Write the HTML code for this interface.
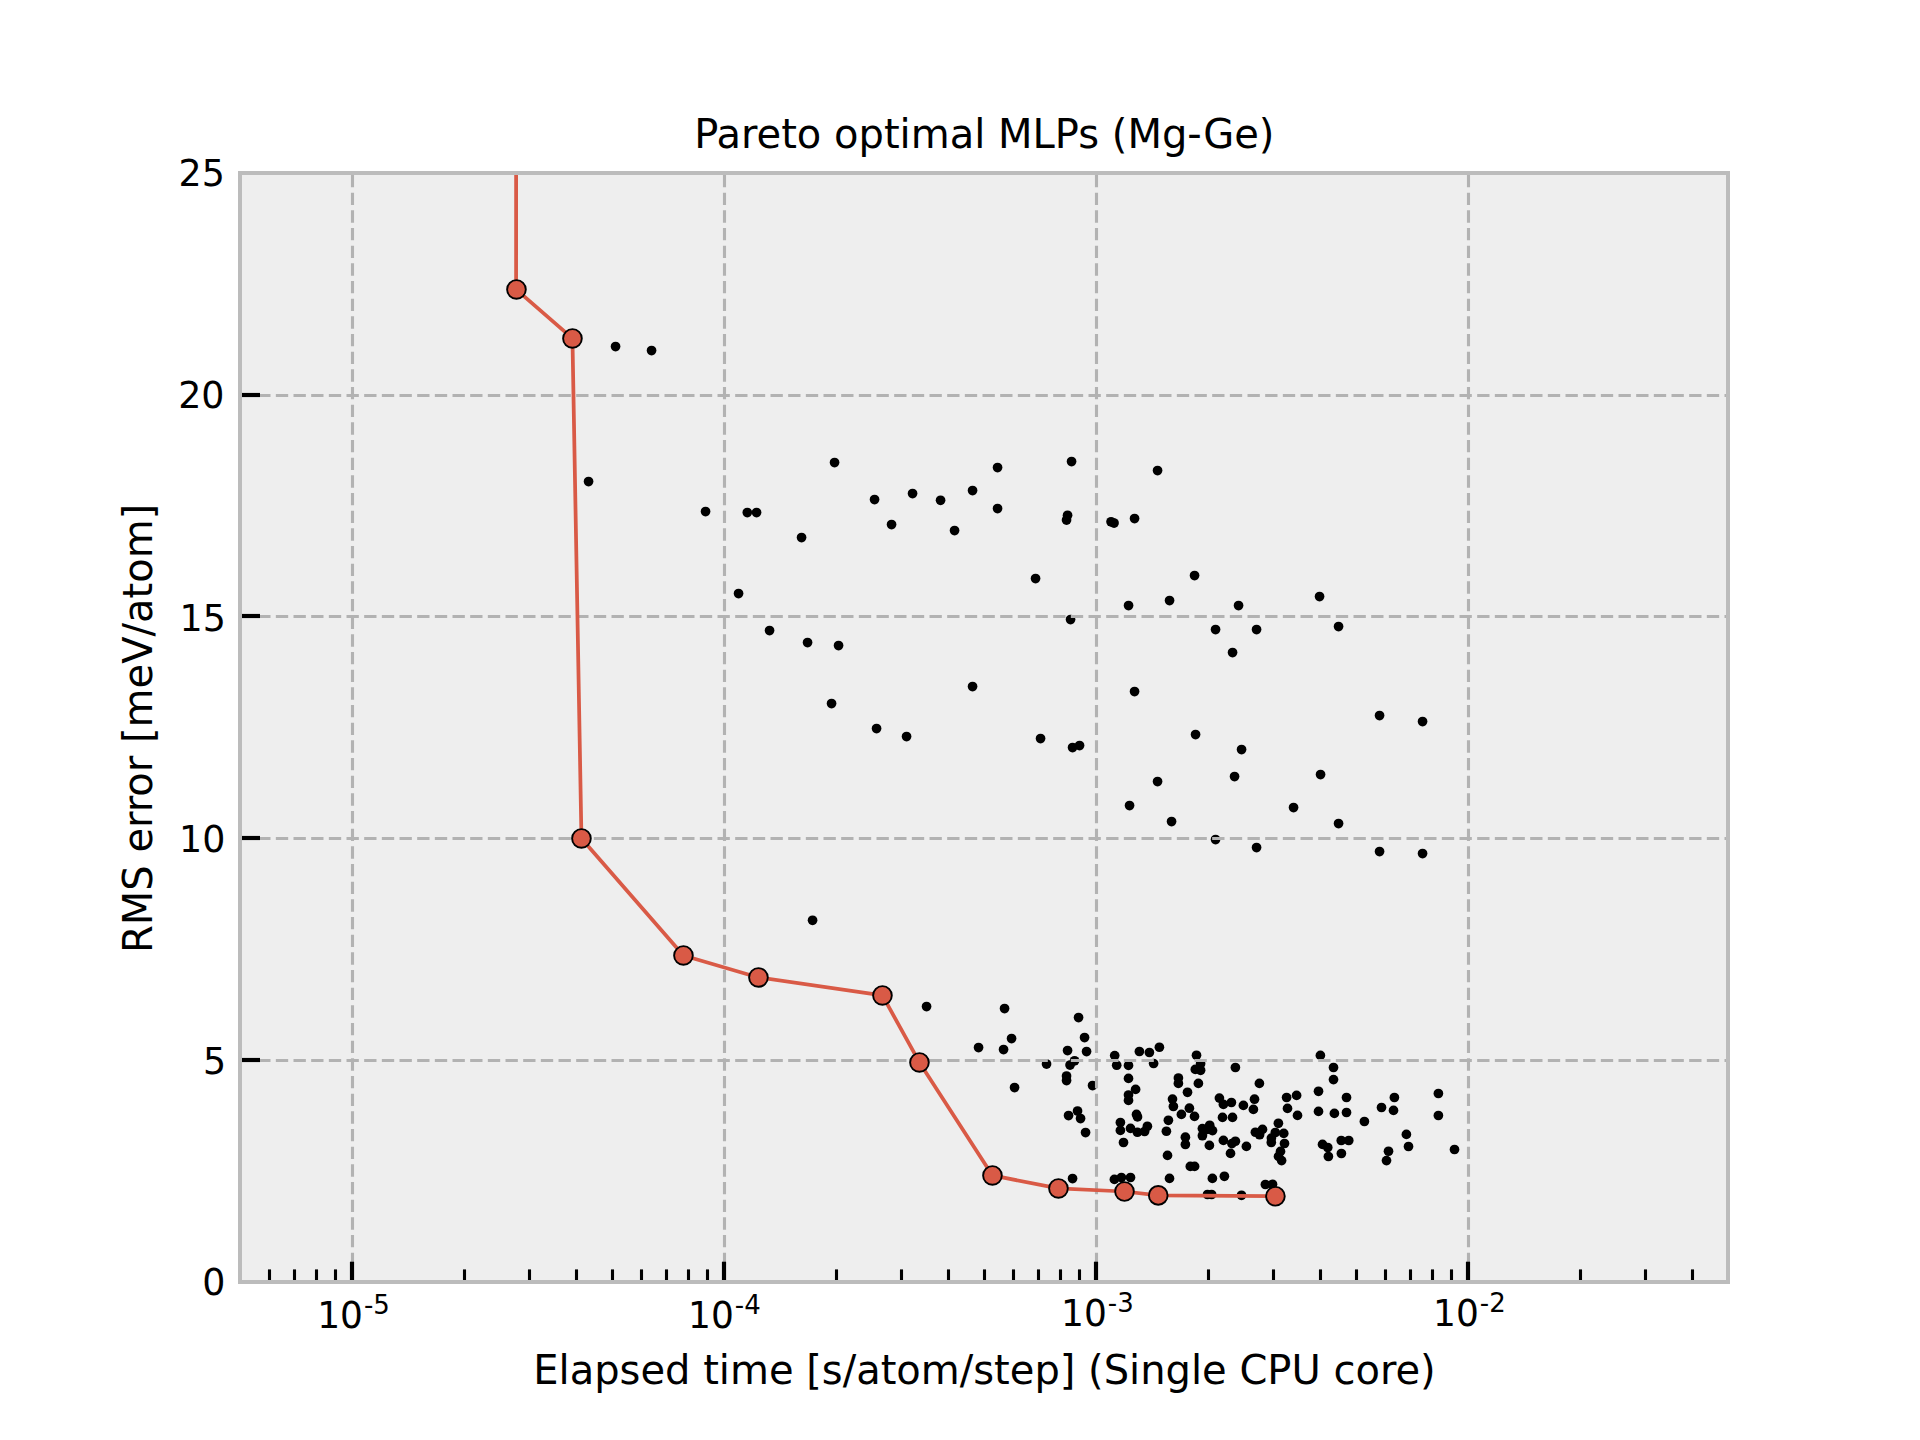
<!DOCTYPE html>
<html lang="en"><head><meta charset="utf-8"><title>Pareto optimal MLPs (Mg-Ge)</title>
<style>html,body{margin:0;padding:0;background:#fff;overflow:hidden}svg{display:block}text{font-family:"DejaVu Sans","Liberation Sans",sans-serif;fill:#000}</style></head><body>
<svg width="1920" height="1440" viewBox="0 0 1920 1440">
<rect width="1920" height="1440" fill="#fff"/>
<rect x="240.0" y="172.8" width="1488.0" height="1108.8" fill="#eeeeee"/>
<clipPath id="c"><rect x="240.0" y="172.8" width="1488.0" height="1108.8"/></clipPath>
<g fill="#000" clip-path="url(#c)">
<circle cx="615.55" cy="346.55" r="4.85"/>
<circle cx="651.55" cy="350.55" r="4.85"/>
<circle cx="588.55" cy="481.55" r="4.85"/>
<circle cx="705.55" cy="511.55" r="4.85"/>
<circle cx="747.3" cy="512.55" r="4.85"/>
<circle cx="756.55" cy="512.55" r="4.85"/>
<circle cx="834.55" cy="462.55" r="4.85"/>
<circle cx="874.55" cy="499.55" r="4.85"/>
<circle cx="912.55" cy="493.55" r="4.85"/>
<circle cx="940.55" cy="500.3" r="4.85"/>
<circle cx="891.55" cy="524.55" r="4.85"/>
<circle cx="954.55" cy="530.55" r="4.85"/>
<circle cx="801.55" cy="537.55" r="4.85"/>
<circle cx="738.55" cy="593.55" r="4.85"/>
<circle cx="997.55" cy="467.55" r="4.85"/>
<circle cx="1071.55" cy="461.55" r="4.85"/>
<circle cx="1157.55" cy="470.55" r="4.85"/>
<circle cx="972.55" cy="490.55" r="4.85"/>
<circle cx="997.55" cy="508.55" r="4.85"/>
<circle cx="1067.55" cy="515.3" r="4.85"/>
<circle cx="1066.55" cy="520.05" r="4.85"/>
<circle cx="1111.05" cy="521.8" r="4.85"/>
<circle cx="1114.05" cy="523.05" r="4.85"/>
<circle cx="1134.55" cy="518.55" r="4.85"/>
<circle cx="1035.55" cy="578.55" r="4.85"/>
<circle cx="1194.55" cy="575.55" r="4.85"/>
<circle cx="1128.55" cy="605.55" r="4.85"/>
<circle cx="1169.55" cy="600.55" r="4.85"/>
<circle cx="1238.55" cy="605.55" r="4.85"/>
<circle cx="1319.55" cy="596.55" r="4.85"/>
<circle cx="1070.55" cy="619.55" r="4.85"/>
<circle cx="1215.55" cy="629.55" r="4.85"/>
<circle cx="1256.55" cy="629.55" r="4.85"/>
<circle cx="1338.55" cy="626.55" r="4.85"/>
<circle cx="1232.55" cy="652.55" r="4.85"/>
<circle cx="972.55" cy="686.55" r="4.85"/>
<circle cx="1134.55" cy="691.55" r="4.85"/>
<circle cx="1379.55" cy="715.55" r="4.85"/>
<circle cx="1422.55" cy="721.55" r="4.85"/>
<circle cx="1040.55" cy="738.55" r="4.85"/>
<circle cx="1072.55" cy="747.55" r="4.85"/>
<circle cx="1079.55" cy="745.55" r="4.85"/>
<circle cx="1195.55" cy="734.55" r="4.85"/>
<circle cx="1241.55" cy="749.55" r="4.85"/>
<circle cx="769.55" cy="630.55" r="4.85"/>
<circle cx="807.55" cy="642.55" r="4.85"/>
<circle cx="838.55" cy="645.55" r="4.85"/>
<circle cx="831.55" cy="703.55" r="4.85"/>
<circle cx="876.55" cy="728.55" r="4.85"/>
<circle cx="906.55" cy="736.55" r="4.85"/>
<circle cx="812.55" cy="920.3" r="4.85"/>
<circle cx="1157.55" cy="781.55" r="4.85"/>
<circle cx="1234.55" cy="776.55" r="4.85"/>
<circle cx="1320.55" cy="774.55" r="4.85"/>
<circle cx="1129.55" cy="805.55" r="4.85"/>
<circle cx="1171.55" cy="821.55" r="4.85"/>
<circle cx="1293.55" cy="807.55" r="4.85"/>
<circle cx="1338.55" cy="823.55" r="4.85"/>
<circle cx="1215.55" cy="839.55" r="4.85"/>
<circle cx="1256.55" cy="847.55" r="4.85"/>
<circle cx="1379.55" cy="851.55" r="4.85"/>
<circle cx="1422.55" cy="853.55" r="4.85"/>
<circle cx="926.55" cy="1006.55" r="4.85"/>
<circle cx="1004.55" cy="1008.55" r="4.85"/>
<circle cx="1078.55" cy="1017.55" r="4.85"/>
<circle cx="1011.55" cy="1038.55" r="4.85"/>
<circle cx="1084.55" cy="1037.55" r="4.85"/>
<circle cx="978.55" cy="1047.55" r="4.85"/>
<circle cx="1003.55" cy="1049.55" r="4.85"/>
<circle cx="1067.55" cy="1050.55" r="4.85"/>
<circle cx="1086.55" cy="1051.55" r="4.85"/>
<circle cx="1114.7" cy="1055.6" r="4.85"/>
<circle cx="1046.55" cy="1064.05" r="4.85"/>
<circle cx="1074.55" cy="1060.8" r="4.85"/>
<circle cx="1070.05" cy="1065.05" r="4.85"/>
<circle cx="1116.7" cy="1065.2" r="4.85"/>
<circle cx="1066.55" cy="1076.05" r="4.85"/>
<circle cx="1066.55" cy="1080.55" r="4.85"/>
<circle cx="1092.55" cy="1085.55" r="4.85"/>
<circle cx="1014.55" cy="1087.55" r="4.85"/>
<circle cx="1077.55" cy="1111.05" r="4.85"/>
<circle cx="1068.55" cy="1115.55" r="4.85"/>
<circle cx="1080.55" cy="1118.55" r="4.85"/>
<circle cx="1085.55" cy="1132.55" r="4.85"/>
<circle cx="1072.55" cy="1178.55" r="4.85"/>
<circle cx="1139.4" cy="1051.5" r="4.85"/>
<circle cx="1149.4" cy="1052.5" r="4.85"/>
<circle cx="1159.4" cy="1047.25" r="4.85"/>
<circle cx="1196.5" cy="1055.3" r="4.85"/>
<circle cx="1320.4" cy="1055.4" r="4.85"/>
<circle cx="1128.5" cy="1065.4" r="4.85"/>
<circle cx="1153.6" cy="1063.5" r="4.85"/>
<circle cx="1235.4" cy="1067.5" r="4.85"/>
<circle cx="1200.6" cy="1063.75" r="4.85"/>
<circle cx="1195.3" cy="1069.4" r="4.85"/>
<circle cx="1200.6" cy="1070.3" r="4.85"/>
<circle cx="1128.5" cy="1078.4" r="4.85"/>
<circle cx="1178.4" cy="1078" r="4.85"/>
<circle cx="1178.4" cy="1083.4" r="4.85"/>
<circle cx="1198.4" cy="1083.4" r="4.85"/>
<circle cx="1259.4" cy="1083.4" r="4.85"/>
<circle cx="1135.6" cy="1089.4" r="4.85"/>
<circle cx="1187.5" cy="1092.3" r="4.85"/>
<circle cx="1318.5" cy="1091.3" r="4.85"/>
<circle cx="1128.5" cy="1095" r="4.85"/>
<circle cx="1128.5" cy="1100.4" r="4.85"/>
<circle cx="1172.5" cy="1099.1" r="4.85"/>
<circle cx="1219.4" cy="1098.1" r="4.85"/>
<circle cx="1254.5" cy="1099.2" r="4.85"/>
<circle cx="1286.6" cy="1097.5" r="4.85"/>
<circle cx="1296.6" cy="1095.4" r="4.85"/>
<circle cx="1173.4" cy="1106.5" r="4.85"/>
<circle cx="1189.4" cy="1108.2" r="4.85"/>
<circle cx="1223.4" cy="1104.4" r="4.85"/>
<circle cx="1231.4" cy="1102.5" r="4.85"/>
<circle cx="1243.4" cy="1105.4" r="4.85"/>
<circle cx="1253.4" cy="1109.4" r="4.85"/>
<circle cx="1287.5" cy="1108.4" r="4.85"/>
<circle cx="1318.5" cy="1111.4" r="4.85"/>
<circle cx="1297.5" cy="1115.4" r="4.85"/>
<circle cx="1136.5" cy="1114.4" r="4.85"/>
<circle cx="1137.5" cy="1116.9" r="4.85"/>
<circle cx="1181.4" cy="1114.4" r="4.85"/>
<circle cx="1194.5" cy="1116.4" r="4.85"/>
<circle cx="1222.5" cy="1117.4" r="4.85"/>
<circle cx="1232.5" cy="1117.4" r="4.85"/>
<circle cx="1168.4" cy="1120.3" r="4.85"/>
<circle cx="1120.4" cy="1122.5" r="4.85"/>
<circle cx="1278.4" cy="1123.3" r="4.85"/>
<circle cx="1147.4" cy="1126.25" r="4.85"/>
<circle cx="1130.5" cy="1128.4" r="4.85"/>
<circle cx="1120.4" cy="1130.4" r="4.85"/>
<circle cx="1137.4" cy="1132.25" r="4.85"/>
<circle cx="1144.6" cy="1131.5" r="4.85"/>
<circle cx="1166.4" cy="1131.25" r="4.85"/>
<circle cx="1209.7" cy="1125.3" r="4.85"/>
<circle cx="1202.4" cy="1128.6" r="4.85"/>
<circle cx="1212.5" cy="1130.6" r="4.85"/>
<circle cx="1207.5" cy="1129.4" r="4.85"/>
<circle cx="1202.4" cy="1135.75" r="4.85"/>
<circle cx="1262.5" cy="1129.4" r="4.85"/>
<circle cx="1255.4" cy="1132.25" r="4.85"/>
<circle cx="1259.6" cy="1134.7" r="4.85"/>
<circle cx="1275.3" cy="1132.5" r="4.85"/>
<circle cx="1283.75" cy="1133.4" r="4.85"/>
<circle cx="1185.4" cy="1137.2" r="4.85"/>
<circle cx="1185.4" cy="1144.5" r="4.85"/>
<circle cx="1123.5" cy="1142.5" r="4.85"/>
<circle cx="1223.4" cy="1140.4" r="4.85"/>
<circle cx="1235.4" cy="1141.25" r="4.85"/>
<circle cx="1231.9" cy="1143.6" r="4.85"/>
<circle cx="1209.4" cy="1145.4" r="4.85"/>
<circle cx="1246.4" cy="1146.4" r="4.85"/>
<circle cx="1271.4" cy="1138.1" r="4.85"/>
<circle cx="1271.3" cy="1142.5" r="4.85"/>
<circle cx="1284.5" cy="1143.5" r="4.85"/>
<circle cx="1230.5" cy="1153.4" r="4.85"/>
<circle cx="1167.5" cy="1155.4" r="4.85"/>
<circle cx="1280.5" cy="1151.4" r="4.85"/>
<circle cx="1278.5" cy="1156.4" r="4.85"/>
<circle cx="1281.6" cy="1160.6" r="4.85"/>
<circle cx="1190.3" cy="1166.4" r="4.85"/>
<circle cx="1194.6" cy="1166.4" r="4.85"/>
<circle cx="1224.4" cy="1176.3" r="4.85"/>
<circle cx="1212.4" cy="1178.4" r="4.85"/>
<circle cx="1169.5" cy="1178.4" r="4.85"/>
<circle cx="1114.4" cy="1179.4" r="4.85"/>
<circle cx="1121.4" cy="1177.5" r="4.85"/>
<circle cx="1130.5" cy="1177.5" r="4.85"/>
<circle cx="1265.4" cy="1184.5" r="4.85"/>
<circle cx="1272.5" cy="1184.3" r="4.85"/>
<circle cx="1207.5" cy="1194.5" r="4.85"/>
<circle cx="1211.6" cy="1194.5" r="4.85"/>
<circle cx="1241.5" cy="1195.3" r="4.85"/>
<circle cx="1333.5" cy="1067.5" r="4.85"/>
<circle cx="1333.5" cy="1079.6" r="4.85"/>
<circle cx="1346.5" cy="1097.5" r="4.85"/>
<circle cx="1394.4" cy="1097.5" r="4.85"/>
<circle cx="1438.4" cy="1093.5" r="4.85"/>
<circle cx="1334.4" cy="1113.4" r="4.85"/>
<circle cx="1346.5" cy="1112.5" r="4.85"/>
<circle cx="1381.5" cy="1107.5" r="4.85"/>
<circle cx="1393.5" cy="1110.4" r="4.85"/>
<circle cx="1438.4" cy="1115.5" r="4.85"/>
<circle cx="1364.4" cy="1121.5" r="4.85"/>
<circle cx="1406.4" cy="1134.4" r="4.85"/>
<circle cx="1408.5" cy="1146.5" r="4.85"/>
<circle cx="1341.25" cy="1140.5" r="4.85"/>
<circle cx="1348.75" cy="1140.5" r="4.85"/>
<circle cx="1322.5" cy="1144.4" r="4.85"/>
<circle cx="1327.75" cy="1147.5" r="4.85"/>
<circle cx="1328.4" cy="1156.5" r="4.85"/>
<circle cx="1341.4" cy="1153.5" r="4.85"/>
<circle cx="1388.5" cy="1151.25" r="4.85"/>
<circle cx="1386.5" cy="1160.6" r="4.85"/>
<circle cx="1454.5" cy="1149.5" r="4.85"/>
</g>
<g stroke="#b2b2b2" stroke-width="3.1" stroke-dasharray="12.3333 5.3333" fill="none">
<path d="M352.5 1282.7V172.8"/>
<path d="M724.5 1282.7V172.8"/>
<path d="M1096.5 1282.7V172.8"/>
<path d="M1468.5 1282.7V172.8"/>
<path d="M240.5 1060.5H1728.0"/>
<path d="M240.5 838.5H1728.0"/>
<path d="M240.5 616.5H1728.0"/>
<path d="M240.5 395.5H1728.0"/>
</g>
<g stroke="#000" fill="none">
<g stroke-width="4.17">
<path d="M352 1282V1261.7"/>
<path d="M724 1282V1261.7"/>
<path d="M1096 1282V1261.7"/>
<path d="M1468 1282V1261.7"/>
<path d="M240.0 1060H260"/>
<path d="M240.0 838H260"/>
<path d="M240.0 616H260"/>
<path d="M240.0 395H260"/>
</g><g stroke-width="3.1">
<path d="M269.5 1282V1269.4"/>
<path d="M294.5 1282V1269.4"/>
<path d="M316.5 1282V1269.4"/>
<path d="M335.5 1282V1269.4"/>
<path d="M464.5 1282V1269.4"/>
<path d="M529.5 1282V1269.4"/>
<path d="M576.5 1282V1269.4"/>
<path d="M612.5 1282V1269.4"/>
<path d="M641.5 1282V1269.4"/>
<path d="M666.5 1282V1269.4"/>
<path d="M688.5 1282V1269.4"/>
<path d="M707.5 1282V1269.4"/>
<path d="M836.5 1282V1269.4"/>
<path d="M901.5 1282V1269.4"/>
<path d="M948.5 1282V1269.4"/>
<path d="M984.5 1282V1269.4"/>
<path d="M1013.5 1282V1269.4"/>
<path d="M1038.5 1282V1269.4"/>
<path d="M1060.5 1282V1269.4"/>
<path d="M1079.5 1282V1269.4"/>
<path d="M1208.5 1282V1269.4"/>
<path d="M1273.5 1282V1269.4"/>
<path d="M1320.5 1282V1269.4"/>
<path d="M1356.5 1282V1269.4"/>
<path d="M1385.5 1282V1269.4"/>
<path d="M1410.5 1282V1269.4"/>
<path d="M1432.5 1282V1269.4"/>
<path d="M1451.5 1282V1269.4"/>
<path d="M1580.5 1282V1269.4"/>
<path d="M1645.5 1282V1269.4"/>
<path d="M1692.5 1282V1269.4"/>
</g></g>
<g clip-path="url(#c)">
<path d="M516.1 150.2L516.1 289.45L572.45 338.45L581.45 838.45L683.45 955.45L758.45 977.45L882.45 995.45L919.45 1062.45L992.45 1175.45L1058.45 1188.45L1124.5 1191.5L1158.25 1195.4L1275.4 1196.25" fill="none" stroke="#d95a46" stroke-width="3.75" stroke-linejoin="round"/>
<g fill="#d95a46" stroke="#000" stroke-width="1.9">
<circle cx="516.45" cy="289.45" r="9.35"/>
<circle cx="572.45" cy="338.45" r="9.35"/>
<circle cx="581.45" cy="838.45" r="9.35"/>
<circle cx="683.45" cy="955.45" r="9.35"/>
<circle cx="758.45" cy="977.45" r="9.35"/>
<circle cx="882.45" cy="995.45" r="9.35"/>
<circle cx="919.45" cy="1062.45" r="9.35"/>
<circle cx="992.45" cy="1175.45" r="9.35"/>
<circle cx="1058.45" cy="1188.45" r="9.35"/>
<circle cx="1124.5" cy="1191.5" r="9.35"/>
<circle cx="1158.25" cy="1195.4" r="9.35"/>
<circle cx="1275.4" cy="1196.25" r="9.35"/>
</g></g>
<rect x="240" y="173" width="1488" height="1109" fill="none" stroke="#bcbcbc" stroke-width="4"/>
<g font-size="36.4" text-anchor="end">
<text transform="translate(225.4 1295.2) scale(1 1.018)">0</text>
<text transform="translate(226.1 1074.2) scale(1 1.018)">5</text>
<text transform="translate(225.4 851.9) scale(1 1.018)">10</text>
<text transform="translate(225.8 630.9) scale(1 1.018)">15</text>
<text transform="translate(224.5 407.9) scale(1 1.018)">20</text>
<text transform="translate(224.9 186.1) scale(1 1.018)">25</text>
</g>
<g font-size="36">
<text transform="translate(317.18 1327.9) scale(1 1.03)">10<tspan dx="1" dy="-13.7" font-size="26">-5</tspan></text>
<text transform="translate(688.08 1327.9) scale(1 1.03)">10<tspan dx="1" dy="-13.7" font-size="26">-4</tspan></text>
<text transform="translate(1060.98 1325.8) scale(1 1.03)">10<tspan dx="1" dy="-13.7" font-size="26">-3</tspan></text>
<text transform="translate(1433.08 1325.8) scale(1 1.03)">10<tspan dx="1" dy="-13.7" font-size="26">-2</tspan></text>
</g>
<text x="984.3" y="148" font-size="40" text-anchor="middle">Pareto optimal MLPs (Mg-Ge)</text>
<text x="984.5" y="1383.7" font-size="40" text-anchor="middle">Elapsed time [s/atom/step] (Single CPU core)</text>
<text transform="translate(152.1 728.4) rotate(-90)" font-size="40" text-anchor="middle">RMS error [meV/atom]</text>
</svg></body></html>
